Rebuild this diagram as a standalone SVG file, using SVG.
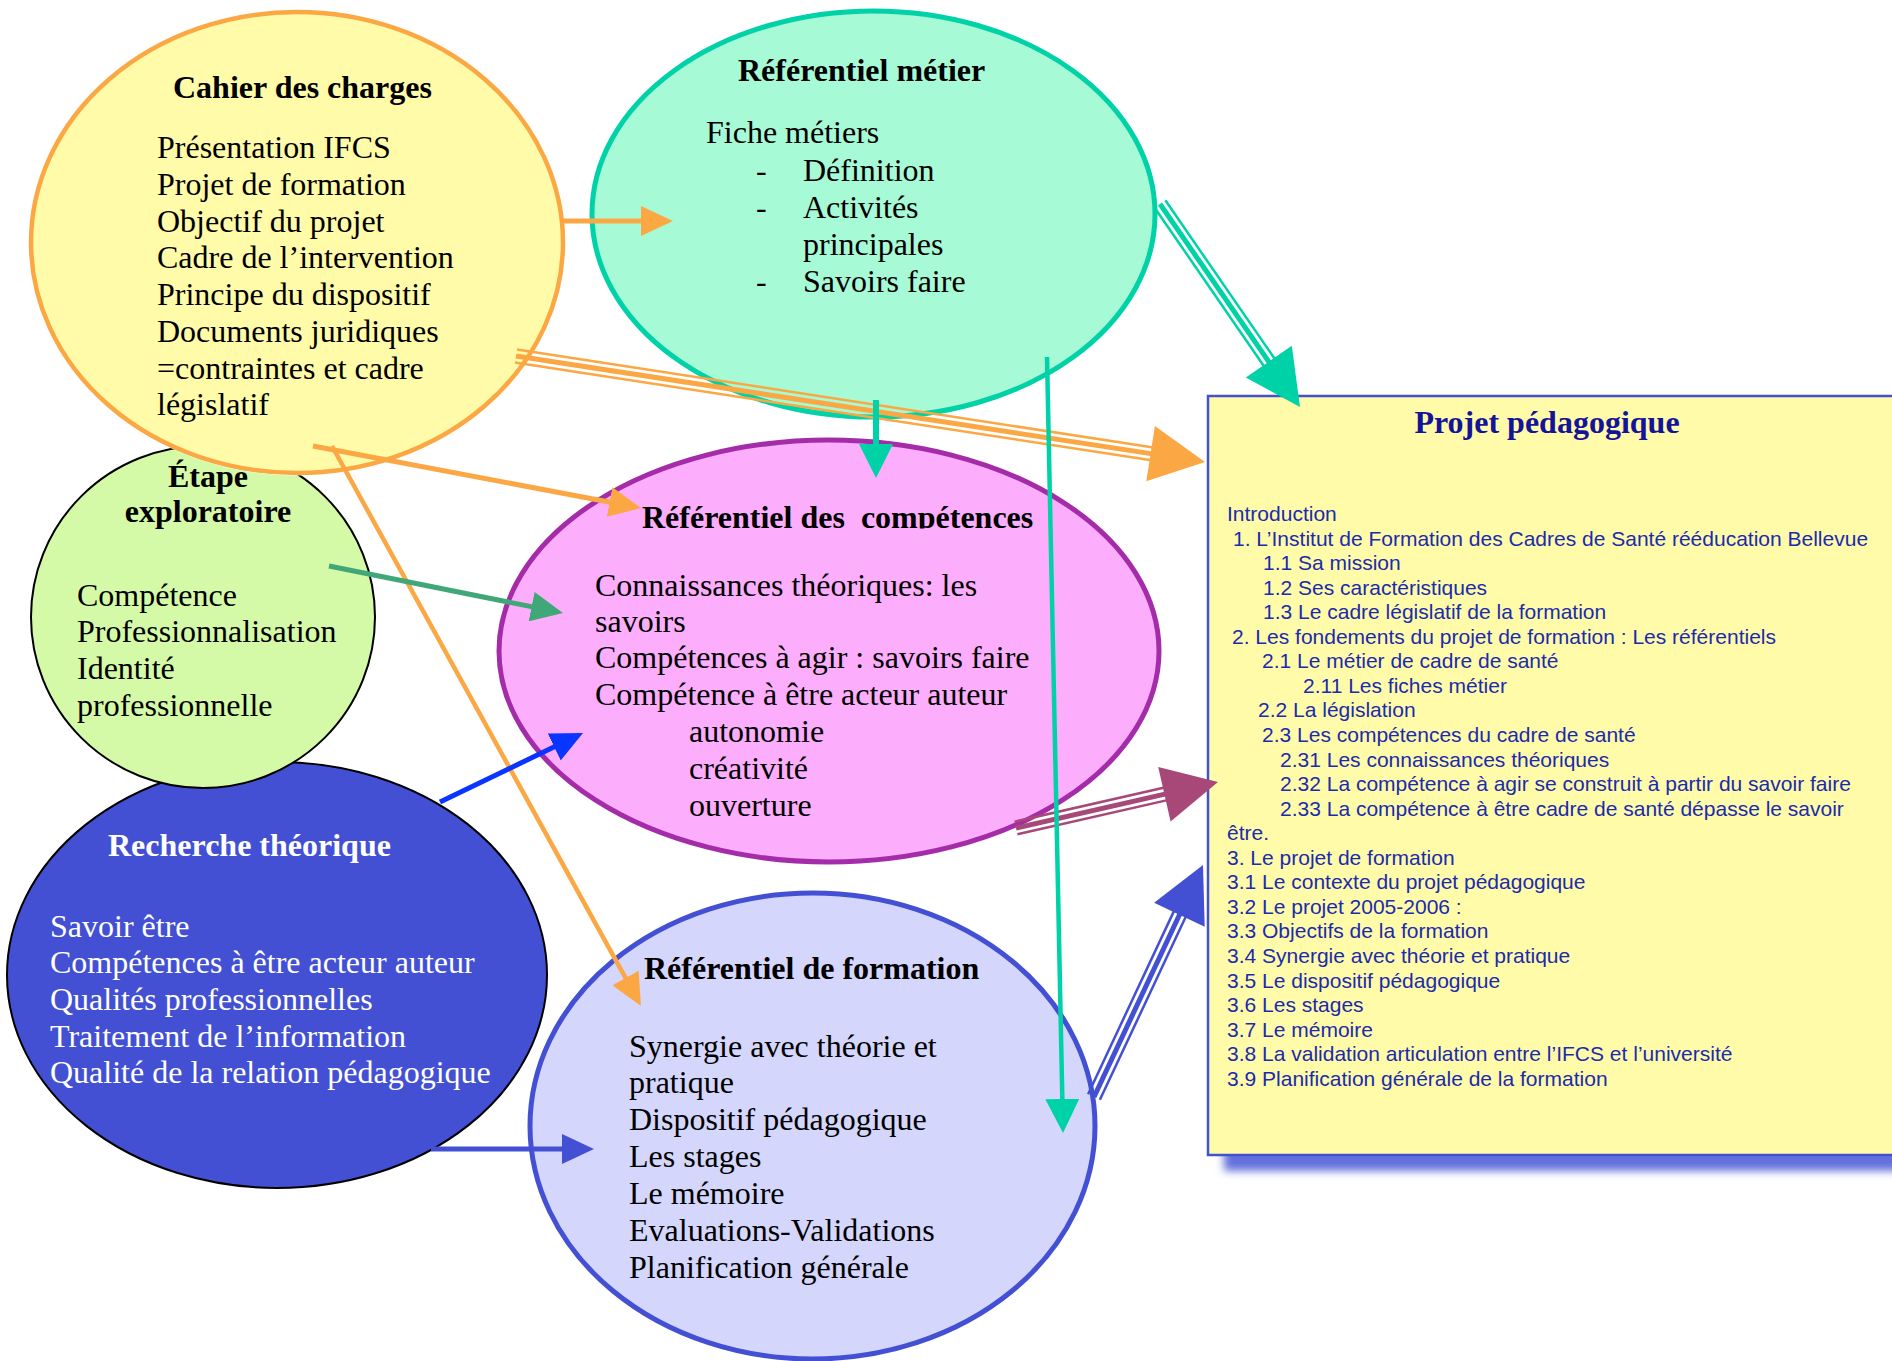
<svg xmlns="http://www.w3.org/2000/svg" width="1892" height="1361" viewBox="0 0 1892 1361">
<defs>
<style>
.t{font-family:"Liberation Serif","Times New Roman",serif;font-size:32px;fill:#000}
.b{font-weight:bold}
.w{fill:#fff}
.toc{font-family:"Liberation Sans",Arial,sans-serif;font-size:21px;fill:#1A2BAE}
.ptitle{font-family:"Liberation Serif","Times New Roman",serif;font-size:32px;font-weight:bold;fill:#14149A}
.ln{fill:none;stroke-linecap:butt}
.or{stroke:#FBA844}
.te{stroke:#00D2A8}
.pu{stroke:#A84878}
.bl{stroke:#4350D4}
.thin{stroke-width:2.5}
.thick{stroke-width:5}
</style>
<marker id="ah-or" markerUnits="userSpaceOnUse" markerWidth="32" markerHeight="30" viewBox="0 0 32 30" refX="6" refY="15" orient="auto"><path d="M0,0 L32,15 L0,30 z" fill="#FBA844"/></marker>
<marker id="ah-gr" markerUnits="userSpaceOnUse" markerWidth="32" markerHeight="30" viewBox="0 0 32 30" refX="6" refY="15" orient="auto"><path d="M0,0 L32,15 L0,30 z" fill="#40A878"/></marker>
<marker id="ah-bb" markerUnits="userSpaceOnUse" markerWidth="32" markerHeight="30" viewBox="0 0 32 30" refX="6" refY="15" orient="auto"><path d="M0,0 L32,15 L0,30 z" fill="#0A34FF"/></marker>
<marker id="ah-bl" markerUnits="userSpaceOnUse" markerWidth="32" markerHeight="30" viewBox="0 0 32 30" refX="6" refY="15" orient="auto"><path d="M0,0 L32,15 L0,30 z" fill="#4350D4"/></marker>
<marker id="ah-te" markerUnits="userSpaceOnUse" markerWidth="34" markerHeight="34" viewBox="0 0 34 34" refX="8" refY="17" orient="auto"><path d="M0,0 L34,17 L0,34 z" fill="#00D2A8"/></marker>
<mask id="m-cahier" maskUnits="userSpaceOnUse" x="0" y="0" width="1892" height="1361">
<rect x="0" y="0" width="1892" height="1361" fill="#fff"/>
<ellipse cx="297" cy="242.5" rx="268.5" ry="233" fill="#000"/>
</mask>
<clipPath id="clip-comp"><rect x="600" y="480" width="500" height="48.5"/></clipPath>
<filter id="shadow" x="-10%" y="-10%" width="130%" height="130%"><feGaussianBlur stdDeviation="4"/></filter>
</defs>

<rect x="0" y="0" width="1892" height="1361" fill="#fff"/>

<g id="node-recherche">
<ellipse cx="277" cy="975" rx="270" ry="213" fill="#4350D4" stroke="#000" stroke-width="2"/>
<text class="t b w" x="108" y="856">Recherche théorique</text>
<text class="t w" x="50" y="937">Savoir être</text>
<text class="t w" x="50" y="973">Compétences à être acteur auteur</text>
<text class="t w" x="50" y="1010">Qualités professionnelles</text>
<text class="t w" x="50" y="1047">Traitement de l’information</text>
<text class="t w" x="50" y="1083">Qualité de la relation pédagogique</text>
</g>

<g id="node-cahier">
<ellipse cx="297" cy="242.5" rx="266" ry="230.5" fill="#FFFBA8" stroke="#FBA844" stroke-width="4.5"/>
<text class="t b" x="173" y="98">Cahier des charges</text>
<text class="t" x="157" y="158">Présentation IFCS</text>
<text class="t" x="157" y="195">Projet de formation</text>
<text class="t" x="157" y="232">Objectif du projet</text>
<text class="t" x="157" y="268">Cadre de l’intervention</text>
<text class="t" x="157" y="305">Principe du dispositif</text>
<text class="t" x="157" y="342">Documents juridiques</text>
<text class="t" x="157" y="379">=contraintes et cadre</text>
<text class="t" x="157" y="415">législatif</text>
</g>

<g id="node-etape">
<ellipse cx="203" cy="617" rx="172" ry="171" fill="#D4FAA8" stroke="#000" stroke-width="2" mask="url(#m-cahier)"/>
<text class="t b" x="208" y="487" text-anchor="middle">Étape</text>
<text class="t b" x="208" y="522" text-anchor="middle">exploratoire</text>
<text class="t" x="77" y="606">Compétence</text>
<text class="t" x="77" y="642">Professionnalisation</text>
<text class="t" x="77" y="679">Identité</text>
<text class="t" x="77" y="716">professionnelle</text>
</g>

<g id="node-metier">
<ellipse cx="873.5" cy="214" rx="281.5" ry="203" fill="#A6FAD6" stroke="#00D2A8" stroke-width="5"/>
<text class="t b" x="738" y="81">Référentiel métier</text>
<text class="t" x="706" y="143">Fiche métiers</text>
<text class="t" x="756" y="181">-</text>
<text class="t" x="803" y="181">Définition</text>
<text class="t" x="756" y="218">-</text>
<text class="t" x="803" y="218">Activités</text>
<text class="t" x="803" y="255">principales</text>
<text class="t" x="756" y="292">-</text>
<text class="t" x="803" y="292">Savoirs faire</text>
</g>

<g id="node-competences">
<ellipse cx="829" cy="651" rx="330" ry="211" fill="#FCAEFC" stroke="#A42CA8" stroke-width="5"/>
<text class="t b" x="642" y="528" clip-path="url(#clip-comp)" xml:space="preserve">Référentiel des  compétences</text>
<text class="t" x="595" y="596">Connaissances théoriques: les</text>
<text class="t" x="595" y="632">savoirs</text>
<text class="t" x="595" y="668">Compétences à agir : savoirs faire</text>
<text class="t" x="595" y="705">Compétence à être acteur auteur</text>
<text class="t" x="689" y="742">autonomie</text>
<text class="t" x="689" y="779">créativité</text>
<text class="t" x="689" y="816">ouverture</text>
</g>

<g id="node-formation">
<ellipse cx="812.5" cy="1126" rx="282.5" ry="233" fill="#D4D6FC" stroke="#4350D4" stroke-width="5"/>
<text class="t b" x="644" y="979">Référentiel de formation</text>
<text class="t" x="629" y="1057">Synergie avec théorie et</text>
<text class="t" x="629" y="1093">pratique</text>
<text class="t" x="629" y="1130">Dispositif pédagogique</text>
<text class="t" x="629" y="1167">Les stages</text>
<text class="t" x="629" y="1204">Le mémoire</text>
<text class="t" x="629" y="1241">Evaluations-Validations</text>
<text class="t" x="629" y="1278">Planification générale</text>
</g>

<g id="node-projet">
<rect x="1224" y="412" width="720" height="759" fill="#6470DC" filter="url(#shadow)"/>
<rect x="1208" y="396" width="720" height="759" fill="#FFFBA8" stroke="#4350D4" stroke-width="2.5"/>
<text class="ptitle" x="1547" y="433" text-anchor="middle">Projet pédagogique</text>
<text class="toc" x="1227" y="521">Introduction</text>
<text class="toc" x="1233" y="545.6">1. L’Institut de Formation des Cadres de Santé rééducation Bellevue</text>
<text class="toc" x="1263" y="570.1">1.1 Sa mission</text>
<text class="toc" x="1263" y="594.7">1.2 Ses caractéristiques</text>
<text class="toc" x="1263" y="619.2">1.3 Le cadre législatif de la formation</text>
<text class="toc" x="1232" y="643.8">2. Les fondements du projet de formation : Les référentiels</text>
<text class="toc" x="1262" y="668.3">2.1 Le métier de cadre de santé</text>
<text class="toc" x="1303" y="692.9">2.11 Les fiches métier</text>
<text class="toc" x="1258" y="717.4">2.2 La législation</text>
<text class="toc" x="1262" y="742">2.3 Les compétences du cadre de santé</text>
<text class="toc" x="1280" y="766.5">2.31 Les connaissances théoriques</text>
<text class="toc" x="1280" y="791.1">2.32 La compétence à agir se construit à partir du savoir faire</text>
<text class="toc" x="1280" y="815.6">2.33 La compétence à être cadre de santé dépasse le savoir</text>
<text class="toc" x="1227" y="840.2">être.</text>
<text class="toc" x="1227" y="864.7">3. Le projet de formation</text>
<text class="toc" x="1227" y="889.3">3.1 Le contexte du projet pédagogique</text>
<text class="toc" x="1227" y="913.8">3.2 Le projet 2005-2006 :</text>
<text class="toc" x="1227" y="938.4">3.3 Objectifs de la formation</text>
<text class="toc" x="1227" y="962.9">3.4 Synergie avec théorie et pratique</text>
<text class="toc" x="1227" y="987.5">3.5 Le dispositif pédagogique</text>
<text class="toc" x="1227" y="1012">3.6 Les stages</text>
<text class="toc" x="1227" y="1036.6">3.7 Le mémoire</text>
<text class="toc" x="1227" y="1061.1">3.8 La validation articulation entre l’IFCS et l’université</text>
<text class="toc" x="1227" y="1085.7">3.9 Planification générale de la formation</text>
</g>

<g id="connectors">
<!-- Cahier -> Referentiel metier -->
<path class="ln or" stroke-width="5" d="M563,221 L647,221" marker-end="url(#ah-or)"/>
<!-- Cahier -> Referentiel des competences -->
<path class="ln or" stroke-width="5" d="M313,446 L615.5,503.2" marker-end="url(#ah-or)"/>
<!-- Cahier -> Referentiel de formation -->
<path class="ln or" stroke-width="4.5" d="M332,446 L628.4,983.2" marker-end="url(#ah-or)"/>
<!-- Cahier -> Projet (triple) -->
<g id="conn-cahier-projet">
<path class="ln or thin" d="M517,349.6 L1156.6,448"/>
<path class="ln or thick" d="M516,356 L1155.6,454.4"/>
<path class="ln or thin" d="M515,362.4 L1154.6,460.8"/>
<polygon points="1205,462 1146.3,481.3 1154.9,425.9" fill="#FBA844"/>
</g>
<!-- Etape -> Competences -->
<path class="ln" stroke="#40A878" stroke-width="5" d="M329,566 L537.5,607.9" marker-end="url(#ah-gr)"/>
<!-- Recherche -> Competences -->
<path class="ln" stroke="#0A34FF" stroke-width="5" d="M440,802 L559.6,744.3" marker-end="url(#ah-bb)"/>
<!-- Recherche -> Formation -->
<path class="ln" stroke="#4350D4" stroke-width="5" d="M431,1149 L568,1149" marker-end="url(#ah-bl)"/>
<!-- Competences -> Projet (triple) -->
<g id="conn-competences-projet">
<path class="ln pu thin" d="M1014.6,821.7 L1167.9,786.8"/>
<path class="ln pu thick" d="M1016,828 L1169.3,793.1"/>
<path class="ln pu thin" d="M1017.4,834.3 L1170.7,799.4"/>
<polygon points="1218,782 1170.6,821.5 1158.2,766.9" fill="#A84878"/>
</g>
<!-- Formation -> Projet (triple) -->
<g id="conn-formation-projet">
<path class="ln bl thin" d="M1099.9,1099.8 L1187.5,913"/>
<path class="ln bl thick" d="M1094,1097 L1181.6,910.2"/>
<path class="ln bl thin" d="M1088.1,1094.2 L1175.7,907.4"/>
<polygon points="1203,865 1204.7,926.7 1154.1,902.7" fill="#4350D4"/>
</g>
<!-- Metier -> Competences -->
<path class="ln" stroke="#00D2A8" stroke-width="6" d="M876,400 L876,452" marker-end="url(#ah-te)"/>
<!-- Metier -> Formation -->
<path class="ln" stroke="#00D2A8" stroke-width="4.5" d="M1047,357 L1062.5,1107" marker-end="url(#ah-te)"/>
<!-- Metier -> Projet (triple) -->
<g id="conn-metier-projet">
<path class="ln te thin" d="M1165.35,200.3 L1276.95,362.1"/>
<path class="ln te thick" d="M1160,204 L1271.6,365.8"/>
<path class="ln te thin" d="M1154.65,207.7 L1266.25,369.5"/>
<polygon points="1300,407 1291.8,345.8 1245.8,377.6" fill="#00D2A8"/>
</g>
</g>
</svg>
